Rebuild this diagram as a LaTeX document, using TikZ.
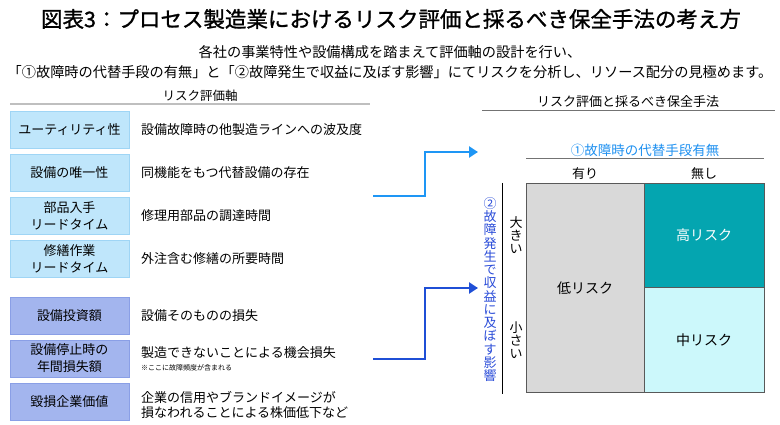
\documentclass[tikz,border=0pt]{standalone}
\usepackage{fontspec}
\setmainfont{Noto Sans CJK JP}
\newfontfamily\titlefont{Noto Sans CJK JP}[FakeBold=1.2]
\usetikzlibrary{arrows.meta}
\definecolor{boxA}{HTML}{BFE6FB}
\definecolor{boxAline}{HTML}{9FD5F5}
\definecolor{boxB}{HTML}{A3B5EE}
\definecolor{boxBline}{HTML}{8A9FE6}
\definecolor{arrA}{HTML}{1E96F5}
\definecolor{arrB}{HTML}{1F4FD6}
\definecolor{hiteal}{HTML}{04A5B0}
\definecolor{lowgray}{HTML}{D9D9D9}
\definecolor{midcyan}{HTML}{CCF8FB}
\definecolor{vblue}{HTML}{2A4CD8}
\definecolor{lblue}{HTML}{1E90F0}
\tikzset{
  axisA/.style={draw=boxAline, fill=boxA, line width=0.8pt, minimum width=119pt, minimum height=37pt, inner sep=0pt, align=center, font=\fontsize{13}{17}\selectfont},
  axisB/.style={draw=boxBline, fill=boxB, line width=0.8pt, minimum width=119pt, minimum height=37pt, inner sep=0pt, align=center, font=\fontsize{13}{17}\selectfont},
  desc/.style={anchor=west, inner sep=0pt, align=left, font=\fontsize{13}{15}\selectfont},
  conn/.style={line width=2.8pt, -{Triangle[length=9pt,width=11pt]}},
  cell/.style={draw=black!65, line width=1pt, inner sep=0pt},
  vtext/.style={align=center, inner sep=0pt, font=\fontsize{13}{13.25}\selectfont},
  plain/.style={inner sep=0pt}
}
\begin{document}
\begin{tikzpicture}[x=1pt,y=-1pt]
\useasboundingbox (0,0) rectangle (780,425);
% title
\node[plain, font=\titlefont\fontsize{21.5}{24}\selectfont] (title) at (391,19) {図表3：プロセス製造業におけるリスク評価と採るべき保全手法の考え方};
\node[plain, font=\fontsize{14.2}{16}\selectfont] (sub1) at (390,52) {各社の事業特性や設備構成を踏まえて評価軸の設計を行い、};
\node[plain, font=\fontsize{14.2}{16}\selectfont] (sub2) at (390,72) {「①故障時の代替手段の有無」と「②故障発生で収益に及ぼす影響」にてリスクを分析し、リソース配分の見極めます。};
% left header
\node[plain, font=\fontsize{12.5}{14}\selectfont] (lhead) at (200,96) {リスク評価軸};
\draw[black!25, line width=2.4pt] (10,104) -- (370,104);
% left boxes
\node[axisA] (a1) at (69.5,129.5) {ユーティリティ性};
\node[axisA] (a2) at (69.5,172.5) {設備の唯一性};
\node[axisA] (a3) at (69.5,215.5) {部品入手\\リードタイム};
\node[axisA] (a4) at (69.5,258.5) {修繕作業\\リードタイム};
\node[axisB] (b1) at (69.5,315.5) {設備投資額};
\node[axisB] (b2) at (69.5,358.5) {設備停止時の\\年間損失額};
\node[axisB] (b3) at (69.5,402) {毀損企業価値};
\node[desc] (d1) at (141,129.5) {設備故障時の他製造ラインへの波及度};
\node[desc] (d2) at (141,172.5) {同機能をもつ代替設備の存在};
\node[desc] (d3) at (141,215.5) {修理用部品の調達時間};
\node[desc] (d4) at (141,258.5) {外注含む修繕の所要時間};
\node[desc] (e1) at (141,315.5) {設備そのものの損失};
\node[desc] (e2) at (141,352.5) {製造できないことによる機会損失};
\node[desc, font=\fontsize{7}{8}\selectfont] (e2n) at (141,367.5) {※ここに故障頻度が含まれる};
\node[desc] (e3) at (141,404.5) {企業の信用やブランドイメージが\\損なわれることによる株価低下など};
% right header
\node[plain, font=\fontsize{13}{15}\selectfont] (rhead) at (628,102) {リスク評価と採るべき保全手法};
\draw[black!55, line width=1pt] (482,111) -- (775,111);
\node[plain, text=lblue, font=\fontsize{13.5}{15}\selectfont] (ax1) at (645,150) {①故障時の代替手段有無};
\draw[black!55, line width=1pt] (526,159) -- (764,159);
\node[plain, font=\fontsize{13}{15}\selectfont] (yes) at (585,174) {有り};
\node[plain, font=\fontsize{13}{15}\selectfont] (no) at (704,174) {無し};
% grid
\node[cell, fill=lowgray, minimum width=118pt, minimum height=209pt] (low) at (585,288.2) {};
\node[cell, fill=hiteal, minimum width=120pt, minimum height=103.5pt] (high) at (704,235.5) {};
\node[cell, fill=midcyan, minimum width=120pt, minimum height=105.5pt] (mid) at (704,340) {};
\node[plain, font=\fontsize{14}{16}\selectfont] (lowt) at (low) {低リスク};
\node[plain, text=white, font=\fontsize{14}{16}\selectfont] (hight) at (high) {高リスク};
\node[plain, font=\fontsize{14}{16}\selectfont] (midt) at (mid) {中リスク};
% vertical axis
\draw[black, line width=1pt] (502,183) -- (502,394);
\node[vtext, text=vblue] (ax2) at (490,289.5) {②\\故\\障\\発\\生\\で\\収\\益\\に\\及\\ぼ\\す\\影\\響};
\node[vtext] (big) at (516,235) {大\\き\\い};
\node[vtext] (small) at (516,340) {小\\さ\\い};
% connectors
\coordinate (g1) at (373,196);
\coordinate (g2) at (373,359);
\coordinate (t1) at (478,152);
\coordinate (t2) at (478,288);
\draw[conn, arrA] (g1) -- (425,196) |- (t1);
\draw[conn, arrB] (g2) -- (425,359) |- (t2);
\end{tikzpicture}
\end{document}
